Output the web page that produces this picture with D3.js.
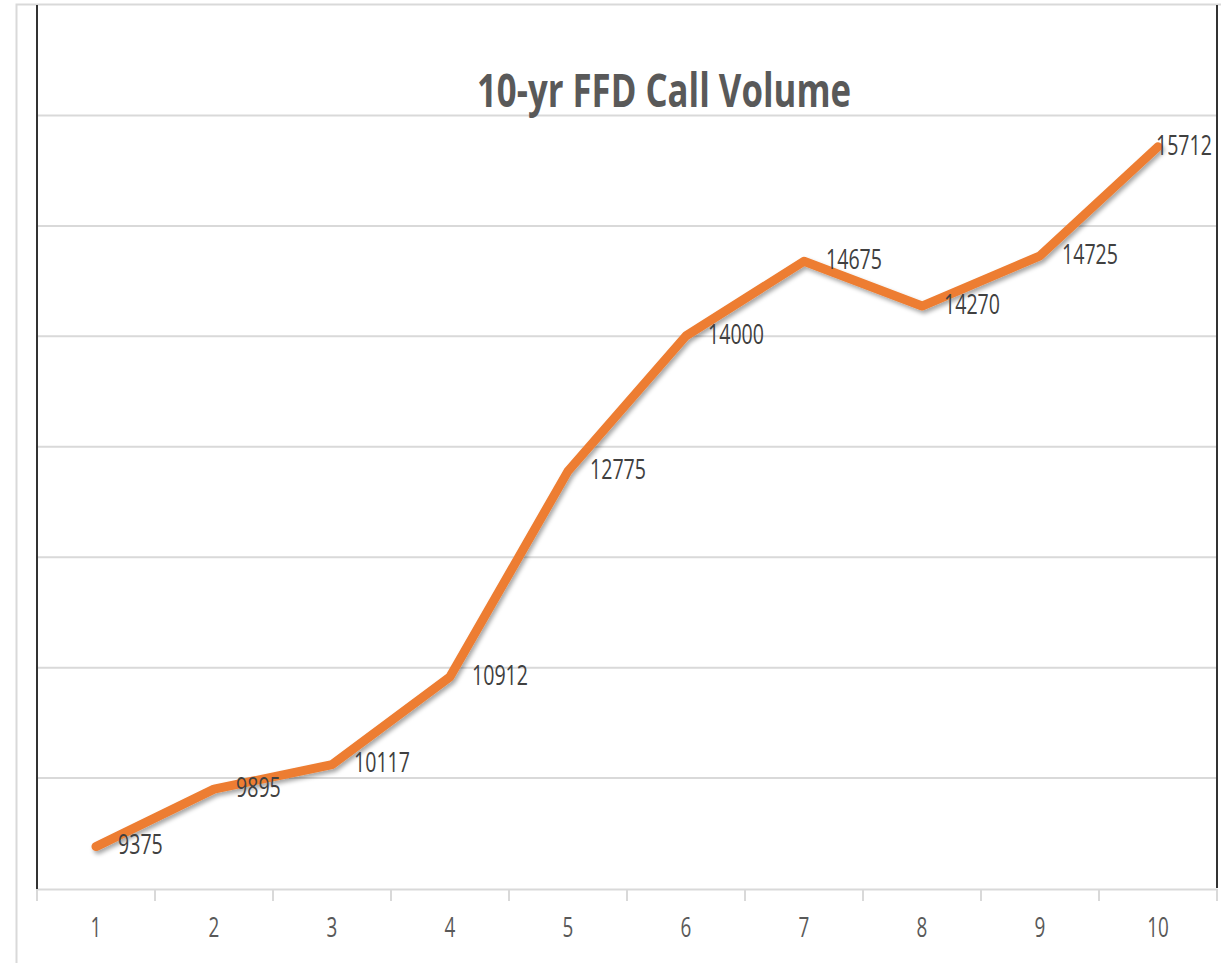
<!DOCTYPE html>
<html>
<head>
<meta charset="utf-8">
<script src="https://cdn.jsdelivr.net/npm/d3@7"></script>
<style>
  body { margin: 0; background: #fff; }
  text { font-family: "Open Sans", sans-serif; }
</style>
</head>
<body>
<div id="chart"></div>
<script>
const years = ["1", "2", "3", "4", "5", "6", "7", "8", "9", "10"];
const calls = [9375, 9895, 10117, 10912, 12775, 14000, 14675, 14270, 14725, 15712];
const yTicks = [9000, 10000, 11000, 12000, 13000, 14000, 15000, 16000];
const title = "10-yr FFD Call Volume";

const W = 1221, H = 963;
const plotLeft = 37, plotRight = 1217, plotTop = 115, plotBottom = 888;
const squeeze = 0.7; // narrow, tall lettering like the original

const svg = d3.select("#chart")
  .append("svg")
  .attr("width", W)
  .attr("height", H);

// outer frame
svg.append("path")
  .attr("d", `M16.5,${H} V4.5 H${W}`)
  .attr("fill", "none")
  .attr("stroke", "#d9d9d9")
  .attr("stroke-width", 2);

const x = d3.scaleBand()
  .domain(years)
  .range([plotLeft, plotRight]);

const y = d3.scaleLinear()
  .domain([9000, 16000])
  .range([plotBottom, plotTop]);

// gridlines
svg.append("g")
  .selectAll("line")
  .data(yTicks.slice(1))
  .join("line")
  .attr("x1", plotLeft)
  .attr("x2", plotRight)
  .attr("y1", d => y(d) + 0.5)
  .attr("y2", d => y(d) + 0.5)
  .attr("stroke", "#d9d9d9")
  .attr("stroke-width", 2);

// x axis
const xAxis = svg.append("g")
  .attr("transform", `translate(0,${plotBottom + 1})`)
  .call(d3.axisBottom(x).tickSize(0).tickPadding(0));

xAxis.select(".domain")
  .attr("stroke", "#d9d9d9")
  .attr("stroke-width", 2);

xAxis.selectAll("text")
  .attr("y", 39)
  .attr("dy", "0.35em")
  .attr("transform", `scale(${squeeze},1)`)
  .attr("fill", "#595959")
  .style("font-size", "27px");

svg.append("g")
  .selectAll("line")
  .data(years.map(d => x(d)).concat([plotRight]))
  .join("line")
  .attr("x1", d => d)
  .attr("x2", d => d)
  .attr("y1", plotBottom + 1)
  .attr("y2", plotBottom + 13)
  .attr("stroke", "#d9d9d9")
  .attr("stroke-width", 2);

// side lines
svg.append("line")
  .attr("x1", plotLeft).attr("x2", plotLeft)
  .attr("y1", 5).attr("y2", plotBottom + 1)
  .attr("stroke", "#333").attr("stroke-width", 2);

svg.append("line")
  .attr("x1", plotRight).attr("x2", plotRight)
  .attr("y1", 5).attr("y2", plotBottom)
  .attr("stroke", "#333").attr("stroke-width", 2);

// title
svg.append("text")
  .attr("transform", `translate(664,107) scale(0.74,1)`)
  .attr("text-anchor", "middle")
  .attr("fill", "#595959")
  .style("font-size", "47px")
  .style("font-weight", "bold")
  .text(title);

// line with shadow
const defs = svg.append("defs");
const f = defs.append("filter").attr("id", "shadow")
  .attr("x", "-10%").attr("y", "-10%").attr("width", "120%").attr("height", "120%");
f.append("feDropShadow")
  .attr("dx", 2).attr("dy", 3)
  .attr("stdDeviation", 2)
  .attr("flood-color", "#000")
  .attr("flood-opacity", 0.35);

const line = d3.line()
  .x((d, i) => x(years[i]) + x.bandwidth() / 2)
  .y(d => y(d));

svg.append("path")
  .datum(calls)
  .attr("d", line)
  .attr("fill", "none")
  .attr("stroke", "#ED7D31")
  .attr("stroke-width", 9)
  .attr("stroke-linejoin", "round")
  .attr("stroke-linecap", "round")
  .attr("filter", "url(#shadow)");

// data labels, kept inside the plot on the right
svg.append("g")
  .selectAll("text")
  .data(calls)
  .join("text")
  .attr("dy", "0.35em")
  .attr("fill", "#404040")
  .style("font-size", "28px")
  .text(d => d)
  .attr("transform", function(d, i) {
    const w = this.getComputedTextLength() * squeeze;
    const lx = Math.min(x(years[i]) + x.bandwidth() / 2 + 22, plotRight - 5 - w);
    return `translate(${lx},${y(d) - 2}) scale(${squeeze},1)`;
  });
</script>
</body>
</html>
